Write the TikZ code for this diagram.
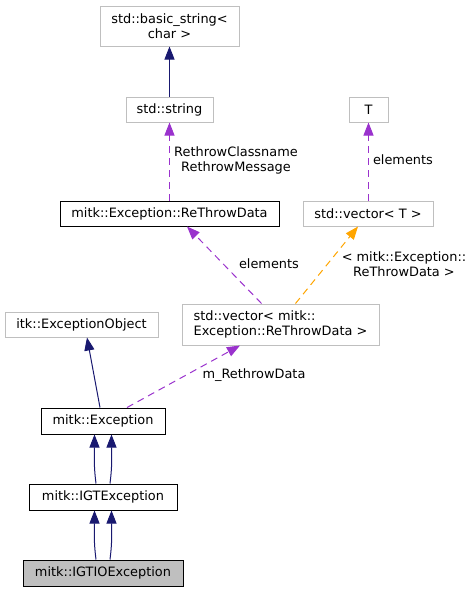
\documentclass[tikz,border=0pt]{standalone}
\usepackage{fontspec}
\setmainfont{DejaVu Sans}
\usetikzlibrary{arrows.meta}
\definecolor{gborder}{HTML}{BFBFBF}
\definecolor{gfill}{HTML}{BFBFBF}
\definecolor{mblue}{HTML}{191970}
\definecolor{dorchid}{HTML}{9A32CD}
\definecolor{dorange}{HTML}{FFA500}
\tikzset{
  box/.style={draw, rectangle, inner sep=0pt, align=center, line width=1pt,
    font=\fontsize{12.9}{15}\selectfont},
  gbox/.style={box, draw=gborder},
  kbox/.style={box, draw=black},
  inh/.style={draw=mblue, line width=1pt, -{Triangle[length=13pt,width=10pt,fill=mblue]}},
  usage/.style={draw=dorchid, line width=1pt, dash pattern=on 7pt off 5pt,
    -{Triangle[length=13pt,width=10pt,fill=dorchid]}},
  tmpl/.style={draw=dorange, line width=1pt, dash pattern=on 7pt off 5pt,
    -{Triangle[length=13pt,width=10pt,fill=dorange]}},
  lbl/.style={inner sep=0pt, align=center, font=\fontsize{12.9}{15}\selectfont}
}
\begin{document}
\begin{tikzpicture}[x=1pt,y=-1pt]
\useasboundingbox (0,0) rectangle (473,592);
\node[gbox, minimum width=139pt, minimum height=40pt] (bs) at (169.5,26) {std::basic\_string<\\char >};
\node[gbox, minimum width=87pt, minimum height=25pt] (str) at (169.5,109.5) {std::string};
\node[gbox, minimum width=39pt, minimum height=25pt] (T) at (368.5,109.5) {T};
\node[kbox, minimum width=219pt, minimum height=25pt] (rtd) at (169.5,213.5) {mitk::Exception::ReThrowData};
\node[gbox, minimum width=130pt, minimum height=25pt] (vt) at (368,213.5) {std::vector< T >};
\node[gbox, minimum width=153pt, minimum height=25pt] (itk) at (81.5,324.5) {itk::ExceptionObject};
\node[gbox, minimum width=197pt, minimum height=41pt, align=left] (vm) at (280.5,324.5) {std::vector< mitk::\\Exception::ReThrowData >};
\node[kbox, minimum width=124pt, minimum height=26pt] (exc) at (103,421) {mitk::Exception};
\node[kbox, minimum width=148pt, minimum height=26pt] (igt) at (103,497) {mitk::IGTException};
\node[kbox, fill=gfill, minimum width=160pt, minimum height=26pt] (igtio) at (103,573) {mitk::IGTIOException};

\draw[inh] (str.north) -- (bs.south);
\draw[usage] (rtd.north) -- (str.south);
\node[lbl] (l1) at (236,160) {RethrowClassname\\RethrowMessage};
\draw[usage] (vt.north -| T.south) -- (T.south);
\node[lbl] (l2) at (403,160) {elements};
\draw[usage] ([xshift=-19pt]vm.north) -- ([xshift=17.5pt]rtd.south);
\node[lbl] (l3) at (269,264) {elements};
\draw[tmpl] ([xshift=15pt]vm.north) -- ([xshift=-10pt]vt.south);
\node[lbl] (l4) at (404,264) {< mitk::Exception::\\ReThrowData >};
\draw[inh] ([xshift=-3pt]exc.north) -- ([xshift=5.5pt]itk.south);
\draw[usage] ([xshift=24pt]exc.north) -- ([xshift=-40.5pt]vm.south);
\node[lbl] (l5) at (254,375) {m\_RethrowData};
\draw[inh] ([xshift=-7pt]igt.north) .. controls +(-2.5,-20) and +(0,22) .. ([xshift=-8.5pt]exc.south);
\draw[inh] ([xshift=7pt]igt.north) .. controls +(2.5,-20) and +(0,22) .. ([xshift=8.5pt]exc.south);
\draw[inh] ([xshift=-7pt]igtio.north) .. controls +(-2.5,-20) and +(0,22) .. ([xshift=-8.5pt]igt.south);
\draw[inh] ([xshift=7pt]igtio.north) .. controls +(2.5,-20) and +(0,22) .. ([xshift=8.5pt]igt.south);
\end{tikzpicture}
\end{document}
